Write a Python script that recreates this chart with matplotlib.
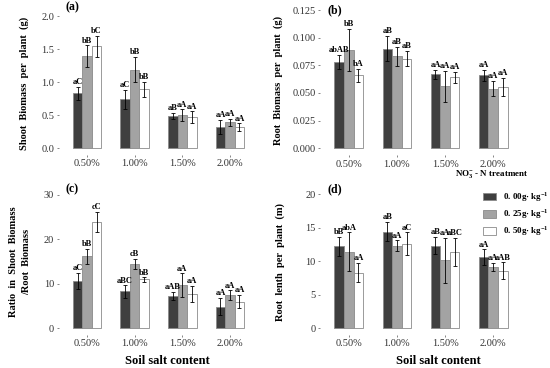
import numpy as np
import matplotlib
matplotlib.use("Agg")
import matplotlib.pyplot as plt
from matplotlib.patches import Patch

plt.rcParams['font.family'] = ['Liberation Serif', 'DejaVu Serif']
plt.rcParams['mathtext.fontset'] = 'custom'
plt.rcParams['mathtext.rm'] = 'Liberation Serif'
plt.rcParams['mathtext.bf'] = 'Liberation Serif:bold'

# data: rows = NO3- treatment, columns = soil salt level
salt = ['0.50%', '1.00%', '1.50%', '2.00%']
treatments = ['0. 00g· kg$^{\\mathbf{-1}}$', '0. 25g· kg$^{\\mathbf{-1}}$', '0. 50g· kg$^{\\mathbf{-1}}$']

shoot_mean = [[0.83, 0.74, 0.49, 0.32],
              [1.39, 1.19, 0.50, 0.39],
              [1.54, 0.89, 0.47, 0.32]]
shoot_se = [[0.095, 0.145, 0.05, 0.105],
            [0.165, 0.19, 0.09, 0.06],
            [0.165, 0.115, 0.09, 0.055]]
shoot_lab = [['aC', 'aC', 'aB', 'aA'],
             ['bB', 'bB', 'aA', 'aA'],
             ['bC', 'bB', 'aA', 'aA']]

root_mean = [[0.078, 0.090, 0.067, 0.066],
             [0.089, 0.083, 0.056, 0.054],
             [0.066, 0.081, 0.064, 0.0557]]
root_se = [[0.0065, 0.0115, 0.004, 0.005],
           [0.019, 0.009, 0.014, 0.007],
           [0.006, 0.007, 0.005, 0.008]]
root_lab = [['abAB', 'aB', 'aA', 'aA'],
            ['bB', 'aB', 'aA', 'aA'],
            ['bA', 'aB', 'aA', 'aA']]

ratio_mean = [[10.7, 8.3, 7.35, 4.9],
              [16.2, 14.5, 9.75, 7.5],
              [23.9, 11.0, 7.7, 6.0]]
ratio_se = [[1.8, 1.4, 0.9, 2.0],
            [1.7, 1.1, 2.6, 1.05],
            [2.25, 0.5, 1.85, 1.5]]
ratio_lab = [['aC', 'aBC', 'aAB', 'aA'],
             ['bB', 'cB', 'aA', 'aA'],
             ['cC', 'bB', 'aA', 'aA']]

length_mean = [[12.2, 14.4, 12.3, 10.6],
               [11.4, 12.3, 10.1, 9.1],
               [8.3, 12.6, 11.4, 8.6]]
length_se = [[1.45, 1.45, 1.3, 1.15],
             [2.9, 0.8, 3.4, 0.6],
             [1.4, 1.7, 2.1, 1.2]]
length_lab = [['bB', 'aB', 'aB', 'aA'],
              ['abA', 'aA', 'aA', 'aA'],
              ['aA', 'aC', 'aBC', 'aAB']]

colors = ['#3f3f3f', '#a3a3a3', '#ffffff']
W, H = 550, 368

fig = plt.figure(figsize=(5.5, 3.68), dpi=100)


def make_axes(x0, x1, ytop, ybot):
    return fig.add_axes([x0 / W, 1 - ybot / H, (x1 - x0) / W, (ybot - ytop) / H])


def panel(ax, means, ses, labs, ymax, yticks, fmt):
    x = np.arange(len(salt))
    bw = 0.2
    for i in range(3):
        pos = x + (i - 1) * bw
        ax.bar(pos, means[i], bw, color=colors[i], edgecolor='#8a8a8a', linewidth=0.6, zorder=2)
        ax.errorbar(pos, means[i], yerr=ses[i], fmt='none', ecolor='black',
                    elinewidth=0.6, capsize=1.6, capthick=0.6, zorder=3)
        for p, m, s, t in zip(pos, means[i], ses[i], labs[i]):
            ax.annotate(t, (p, m + s), xytext=(0, 0.5), textcoords='offset points',
                        ha='center', va='bottom', fontsize=6, fontweight='bold')
    pad = ymax * 0.05
    ax.set_ylim(-pad, ymax + pad)
    ax.set_xlim(-0.6, len(salt) - 0.4)
    ax.set_xticks(x)
    ax.set_xticklabels(salt)
    ax.set_yticks(yticks)
    ax.set_yticklabels([fmt.format(v) for v in yticks])
    for s in ax.spines.values():
        s.set_visible(False)
    ax.tick_params(length=1.6, width=0.5, color='#555555', labelsize=7.5,
                   labelcolor='#333333', pad=1.5)


ax_a = make_axes(58.5, 258.5, 9.4, 154.9)
panel(ax_a, shoot_mean, shoot_se, shoot_lab, 2.0, [0, 0.5, 1.0, 1.5, 2.0], '{:.1f}')
ax_b = make_axes(320, 522, 3.1, 155.2)
panel(ax_b, root_mean, root_se, root_lab, 0.125, [0, 0.025, 0.05, 0.075, 0.1, 0.125], '{:.3f}')
ax_c = make_axes(58.5, 258.5, 188.3, 335)
panel(ax_c, ratio_mean, ratio_se, ratio_lab, 30, [0, 10, 20, 30], '{:.0f}')
ax_d = make_axes(320, 522, 187.3, 335)
panel(ax_d, length_mean, length_se, length_lab, 20, [0, 5, 10, 15, 20], '{:.0f}')

# panel tags
for tag, tx, ty in [('(a)', 66, 7), ('(b)', 328, 10), ('(c)', 66, 189), ('(d)', 328, 189)]:
    fig.text(tx / W, 1 - ty / H, tag, ha='left', va='center', fontsize=8.5, fontweight='bold')

# axis titles
fig.text(24 / W, 1 - 83 / H, 'Shoot  Biomass  per  plant  (g)', rotation=90,
         ha='center', va='center', fontsize=7.5, fontweight='bold')
fig.text(278 / W, 1 - 80 / H, 'Root  Biomass  per  plant  (g)', rotation=90,
         ha='center', va='center', fontsize=7.5, fontweight='bold')
fig.text(20 / W, 1 - 262 / H, 'Ratio  in  Shoot  Biomass\n/Root  Biomass', rotation=90,
         ha='center', va='center', fontsize=7.5, fontweight='bold', linespacing=1.6)
fig.text(280 / W, 1 - 262 / H, 'Root  lenth  per  plant  (m)', rotation=90,
         ha='center', va='center', fontsize=7.5, fontweight='bold')
fig.text(167 / W, 1 - 361 / H, 'Soil salt content', ha='center', va='center',
         fontsize=9, fontweight='bold')
fig.text(438 / W, 1 - 361 / H, 'Soil salt content', ha='center', va='center',
         fontsize=9, fontweight='bold')

# legend
fig.text(455 / W, 1 - 175 / H, 'NO$_{\\mathbf{3}}^{\\mathbf{-}}$ - N treatment', ha='left',
         va='center', fontsize=6.5, fontweight='bold')
handles = [Patch(facecolor=c, edgecolor='#8a8a8a', linewidth=0.6) for c in colors]
fig.legend(handles, treatments, loc='upper left', bbox_to_anchor=(483 / W, 1 - 190 / H),
           frameon=False, prop={'weight': 'bold', 'size': 6.5},
           handlelength=1.45, handleheight=0.9, labelspacing=0.4, handletextpad=0.8,
           borderpad=0, borderaxespad=0)

fig.savefig('out.png', dpi=100)
